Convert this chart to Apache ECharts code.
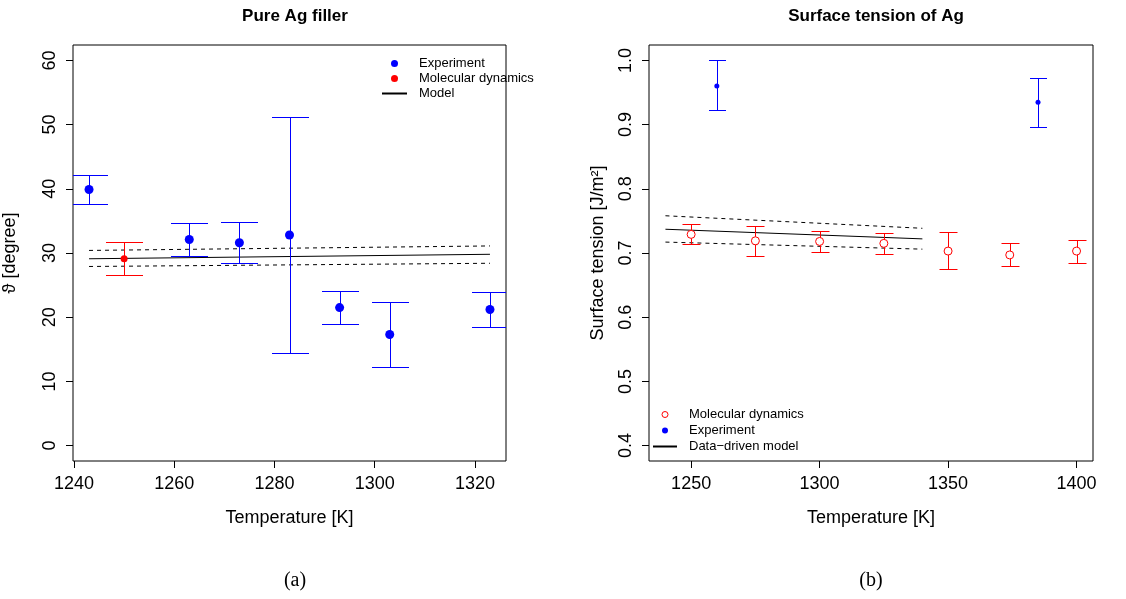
<!DOCTYPE html>
<html>
<head>
<meta charset="utf-8">
<script src="https://cdn.jsdelivr.net/npm/echarts@6/dist/echarts.min.js"></script>
<style>
html,body{margin:0;padding:0;background:#fff;}
#chart{width:1126px;height:599px;}
</style>
</head>
<body>
<div id="chart"></div>
<script>
// ---------- Panel (a): Pure Ag filler ----------
const expT = [1243, 1263, 1273, 1283, 1293, 1303, 1323];
const expTheta = [39.9, 32.1, 31.6, 32.8, 21.5, 17.3, 21.2];
const expThetaLow = [37.7, 29.5, 28.4, 14.4, 18.9, 12.3, 18.4];
const expThetaHigh = [42.1, 34.7, 34.8, 51.2, 24.1, 22.3, 24.0];
const mdT = [1250];
const mdTheta = [29.1];
const mdThetaLow = [26.5];
const mdThetaHigh = [31.7];
const modelT = [1243, 1323];
const modelTheta = [29.1, 29.8];
const modelThetaUpper = [30.4, 31.1];
const modelThetaLower = [27.9, 28.4];
const xTicksA = [1240, 1260, 1280, 1300, 1320];
const yTicksA = [0, 10, 20, 30, 40, 50, 60];

// ---------- Panel (b): Surface tension of Ag ----------
const stExpT = [1260, 1385];
const stExp = [0.960, 0.935];
const stExpLow = [0.922, 0.896];
const stExpHigh = [1.000, 0.972];
const stMdT = [1250, 1275, 1300, 1325, 1350, 1374, 1400];
const stMd = [0.729, 0.719, 0.718, 0.715, 0.703, 0.697, 0.703];
const stMdLow = [0.714, 0.696, 0.702, 0.699, 0.675, 0.679, 0.685];
const stMdHigh = [0.745, 0.742, 0.735, 0.731, 0.732, 0.716, 0.721];
const stModelT = [1240, 1340];
const stModel = [0.737, 0.722];
const stModelUpper = [0.758, 0.7385];
const stModelLower = [0.717, 0.706];
const xTicksB = [1250, 1300, 1350, 1400];
const yTicksB = [0.4, 0.5, 0.6, 0.7, 0.8, 0.9, 1.0];

const FONT = 'Liberation Sans, Arial, Helvetica, sans-serif';

function zip(a, b) { return a.map((v, i) => [v, b[i]]); }
function zip3(a, b, c) { return a.map((v, i) => [v, b[i], c[i]]); }

function errRender(halfCap, color) {
  return function (params, api) {
    const x = api.value(0), lo = api.value(1), hi = api.value(2);
    const pL = api.coord([x, lo]), pH = api.coord([x, hi]);
    const cx = Math.round(pL[0]) + 0.5;
    const yl = Math.round(pL[1]) + 0.5, yh = Math.round(pH[1]) + 0.5;
    const st = () => ({ stroke: color, lineWidth: 1, fill: null });
    return {
      type: 'group',
      children: [
        { type: 'line', shape: { x1: cx, y1: yl, x2: cx, y2: yh }, style: st() },
        { type: 'line', shape: { x1: cx - halfCap, y1: yl, x2: cx + halfCap, y2: yl }, style: st() },
        { type: 'line', shape: { x1: cx - halfCap, y1: yh, x2: cx + halfCap, y2: yh }, style: st() }
      ]
    };
  };
}

function xAxisCfg(gridIndex, min, max, ticks) {
  return {
    type: 'value', gridIndex: gridIndex, min: min, max: max,
    name: 'Temperature [K]', nameLocation: 'middle', nameGap: 48,
    nameTextStyle: { fontFamily: FONT, fontSize: 18, color: '#000' },
    axisLine: { show: false, onZero: false },
    axisTick: { show: true, length: 7, lineStyle: { color: '#000' }, customValues: ticks },
    axisLabel: { fontFamily: FONT, fontSize: 18, color: '#000', margin: 14, customValues: ticks,
      formatter: v => String(v) },
    splitLine: { show: false }
  };
}
function yAxisCfg(gridIndex, min, max, ticks, name, nameGap, fmt) {
  return {
    type: 'value', gridIndex: gridIndex, min: min, max: max,
    name: name, nameLocation: 'middle', nameGap: nameGap, nameRotate: 90,
    nameTextStyle: { fontFamily: FONT, fontSize: 18, color: '#000' },
    axisLine: { show: false, onZero: false },
    axisTick: { show: true, length: 7, lineStyle: { color: '#000' }, customValues: ticks },
    axisLabel: { fontFamily: FONT, fontSize: 18, color: '#000', margin: 14, rotate: 90,
      customValues: ticks, formatter: fmt },
    splitLine: { show: false }
  };
}

const option = {
  backgroundColor: '#fff',
  animation: false,
  title: [
    { text: 'Pure Ag filler', left: 290, top: 3, textAlign: 'center',
      textStyle: { fontFamily: FONT, fontSize: 17, fontWeight: 'bold', color: '#000' } },
    { text: 'Surface tension of Ag', left: 871, top: 3, textAlign: 'center',
      textStyle: { fontFamily: FONT, fontSize: 17, fontWeight: 'bold', color: '#000' } },
    { text: '(a)', left: 290, top: 566, textAlign: 'center',
      textStyle: { fontFamily: 'Liberation Serif, serif', fontSize: 20, fontWeight: 'normal', color: '#000' } },
    { text: '(b)', left: 866, top: 566, textAlign: 'center',
      textStyle: { fontFamily: 'Liberation Serif, serif', fontSize: 20, fontWeight: 'normal', color: '#000' } }
  ],
  legend: [
    { orient: 'vertical', left: 381, top: 57, padding: 0, itemGap: 2,
      itemWidth: 25, itemHeight: 7,
      textStyle: { fontFamily: FONT, fontSize: 13, color: '#000', padding: [0, 0, 0, 7] },
      data: [
        { name: 'Experiment', icon: 'circle', itemStyle: { color: '#0000ff' } },
        { name: 'Molecular dynamics', icon: 'circle', itemStyle: { color: '#ff0000' } },
        { name: 'Model', itemStyle: { opacity: 0 } }
      ] },
    { orient: 'vertical', left: 652, top: 408, padding: 0, itemGap: 3,
      itemWidth: 24, itemHeight: 6,
      formatter: function (n) { return n.replace(' (b)', ''); },
      textStyle: { fontFamily: FONT, fontSize: 13, color: '#000', padding: [0, 0, 0, 7] },
      data: [
        { name: 'Molecular dynamics (b)', icon: 'circle',
          itemStyle: { color: '#ffffff', borderColor: '#ff0000', borderWidth: 1 } },
        { name: 'Experiment (b)', icon: 'circle', itemStyle: { color: '#0000ff' } },
        { name: 'Data\u2212driven model (b)', itemStyle: { opacity: 0 } }
      ] }
  ],
  grid: [
    { left: 73, top: 45, width: 433, height: 416, show: true, borderColor: '#000', borderWidth: 1,
      backgroundColor: 'transparent', outerBoundsMode: 'none', containLabel: false },
    { left: 649, top: 45, width: 444, height: 416, show: true, borderColor: '#000', borderWidth: 1,
      backgroundColor: 'transparent', outerBoundsMode: 'none', containLabel: false }
  ],
  xAxis: [
    xAxisCfg(0, 1239.8, 1326.2, xTicksA),
    xAxisCfg(1, 1233.6, 1406.4, xTicksB)
  ],
  yAxis: [
    yAxisCfg(0, -2.4, 62.4, yTicksA, '\u03D1 [degree]', 54, v => String(v)),
    yAxisCfg(1, 0.376, 1.024, yTicksB, 'Surface tension [J/m\u00B2]', 42, v => v.toFixed(1))
  ],
  series: [
    // panel (a)
    { name: 'Model', type: 'line', xAxisIndex: 0, yAxisIndex: 0, data: zip(modelT, modelTheta),
      symbol: 'none', lineStyle: { color: '#000', width: 1 }, itemStyle: { color: '#000' }, z: 2 },
    { name: 'Model upper', type: 'line', xAxisIndex: 0, yAxisIndex: 0, data: zip(modelT, modelThetaUpper),
      symbol: 'none', lineStyle: { color: '#000', width: 1, type: [4, 4] }, z: 2 },
    { name: 'Model lower', type: 'line', xAxisIndex: 0, yAxisIndex: 0, data: zip(modelT, modelThetaLower),
      symbol: 'none', lineStyle: { color: '#000', width: 1, type: [4, 4] }, z: 2 },
    { name: 'Exp err', type: 'custom', xAxisIndex: 0, yAxisIndex: 0, clip: true,
      renderItem: errRender(18.5, '#0000ff'), data: zip3(expT, expThetaLow, expThetaHigh),
      encode: { x: 0, y: [1, 2] }, emphasis: { disabled: true }, z: 3 },
    { name: 'MD err', type: 'custom', xAxisIndex: 0, yAxisIndex: 0, clip: true,
      renderItem: errRender(18.5, '#ff0000'), data: zip3(mdT, mdThetaLow, mdThetaHigh),
      encode: { x: 0, y: [1, 2] }, emphasis: { disabled: true }, z: 3 },
    { name: 'Experiment', type: 'scatter', xAxisIndex: 0, yAxisIndex: 0, data: zip(expT, expTheta),
      symbol: 'circle', symbolSize: 9, itemStyle: { color: '#0000ff', opacity: 1 }, z: 4 },
    { name: 'Molecular dynamics', type: 'scatter', xAxisIndex: 0, yAxisIndex: 0, data: zip(mdT, mdTheta),
      symbol: 'circle', symbolSize: 7, itemStyle: { color: '#ff0000', opacity: 1 }, z: 4 },
    // panel (b)
    { name: 'Data\u2212driven model (b)', type: 'line', xAxisIndex: 1, yAxisIndex: 1, data: zip(stModelT, stModel),
      symbol: 'none', lineStyle: { color: '#000', width: 1 }, itemStyle: { color: '#000' }, z: 2 },
    { name: 'ST model upper', type: 'line', xAxisIndex: 1, yAxisIndex: 1, data: zip(stModelT, stModelUpper),
      symbol: 'none', lineStyle: { color: '#000', width: 1, type: [4, 4] }, z: 2 },
    { name: 'ST model lower', type: 'line', xAxisIndex: 1, yAxisIndex: 1, data: zip(stModelT, stModelLower),
      symbol: 'none', lineStyle: { color: '#000', width: 1, type: [4, 4] }, z: 2 },
    { name: 'ST exp err', type: 'custom', xAxisIndex: 1, yAxisIndex: 1, clip: true,
      renderItem: errRender(8.5, '#0000ff'), data: zip3(stExpT, stExpLow, stExpHigh),
      encode: { x: 0, y: [1, 2] }, emphasis: { disabled: true }, z: 3 },
    { name: 'ST md err', type: 'custom', xAxisIndex: 1, yAxisIndex: 1, clip: true,
      renderItem: errRender(9, '#ff0000'), data: zip3(stMdT, stMdLow, stMdHigh),
      encode: { x: 0, y: [1, 2] }, emphasis: { disabled: true }, z: 3 },
    { name: 'Experiment (b)', type: 'scatter', xAxisIndex: 1, yAxisIndex: 1, data: zip(stExpT, stExp),
      symbol: 'circle', symbolSize: 5, itemStyle: { color: '#0000ff', opacity: 1 }, z: 4 },
    { name: 'Molecular dynamics (b)', type: 'scatter', xAxisIndex: 1, yAxisIndex: 1, data: zip(stMdT, stMd),
      symbol: 'circle', symbolSize: 8,
      itemStyle: { color: '#ffffff', borderColor: '#ff0000', borderWidth: 1, opacity: 1 }, z: 4 }
  ]
};

const chart = echarts.init(document.getElementById('chart'), null, { renderer: 'canvas' });
chart.setOption(option);
</script>
</body>
</html>
